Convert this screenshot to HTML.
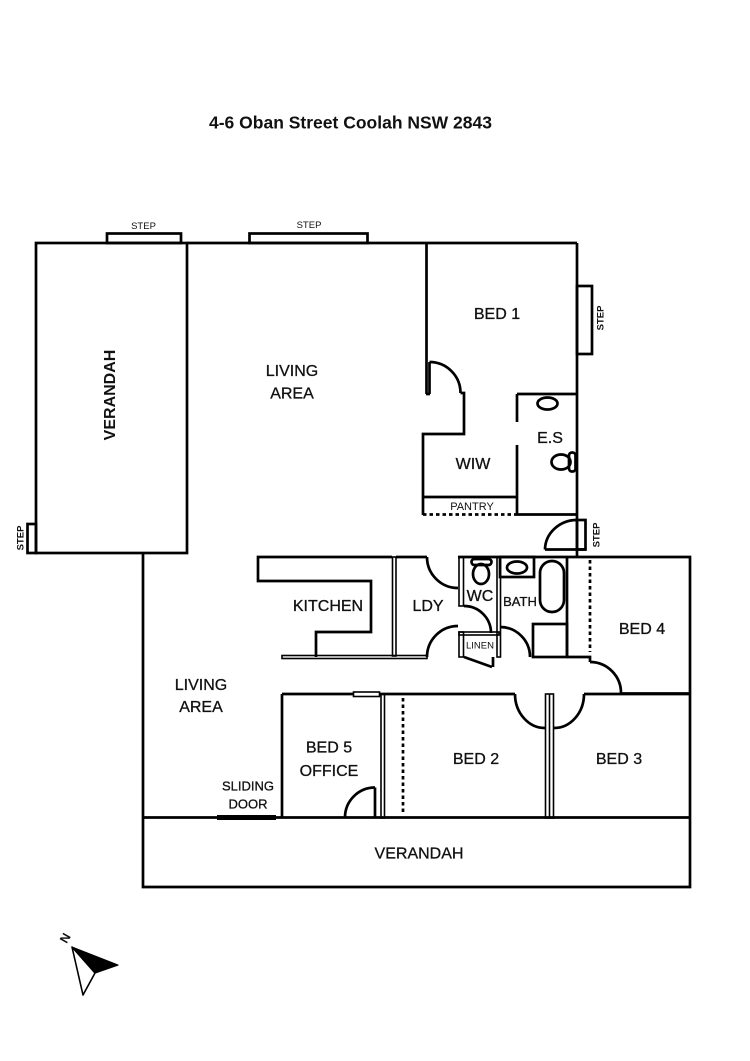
<!DOCTYPE html>
<html>
<head>
<meta charset="utf-8">
<style>
html,body{margin:0;padding:0;background:#fff;}
svg{display:block;}
text{font-family:"Liberation Sans",Arial,sans-serif;fill:#111;}
.lbl text{stroke:#111;stroke-width:0.3;}
</style>
</head>
<body>
<svg width="750" height="1061" viewBox="0 0 750 1061" xmlns="http://www.w3.org/2000/svg">
<rect width="750" height="1061" fill="#fff"/>

<!-- Title -->
<text x="209" y="128.5" font-size="17.5" font-weight="bold">4-6 Oban Street Coolah NSW 2843</text>

<g fill="none" stroke="#000" stroke-width="2.7">
  <!-- top steps -->
  <rect x="107" y="233.5" width="74" height="9.5"/>
  <rect x="249.5" y="233.5" width="118" height="9.5"/>
  <!-- left verandah -->
  <rect x="36" y="243" width="151" height="310"/>
  <rect x="27.5" y="524" width="8.5" height="29"/>
  <!-- top wall -->
  <line x1="187" y1="243" x2="577" y2="243"/>
  <!-- right wall -->
  <line x1="577" y1="243" x2="577" y2="557"/>
  <rect x="577" y="286" width="15" height="68"/>

  <!-- Bed 1 left wall + door -->
  <line x1="426.5" y1="243" x2="426.5" y2="394"/>
  <line x1="429.5" y1="362" x2="429.5" y2="394"/>
  <line x1="426" y1="394" x2="430" y2="394"/>
  <path d="M429.5,362 A31,31 0 0 1 460.5,393"/>
  <path d="M460.5,393 L464,393 L464,434 L423,434 L423,515"/>

  <!-- WIW / pantry -->
  <line x1="423" y1="497" x2="517" y2="497"/>
  <line x1="423" y1="514.5" x2="517" y2="514.5" stroke-dasharray="3.5,3"/>

  <!-- ES -->
  <line x1="517" y1="394" x2="577" y2="394"/>
  <line x1="517" y1="394" x2="517" y2="422"/>
  <line x1="517" y1="445" x2="517" y2="514.5"/>
  <line x1="517" y1="514.5" x2="577" y2="514.5"/>
  <ellipse cx="547.5" cy="403.5" rx="10" ry="6"/>
  <ellipse cx="561" cy="462" rx="9.5" ry="7.5"/>
  <rect x="569" y="452.5" width="6.5" height="19" rx="3"/>

  <!-- ES step door -->
  <rect x="577" y="520" width="8.5" height="29.5"/>
  <path d="M545,549.5 A32,30 0 0 1 577,520"/>
  <line x1="545" y1="549.5" x2="586" y2="549.5"/>

  <!-- Lower block outline -->
  <path d="M143,553 L143,887 L690,887 L690,557 L458,557"/>
  <line x1="143" y1="817.5" x2="690" y2="817.5"/>

  <!-- Kitchen -->
  <path d="M392,557 L258,557 L258,581 L371,581 L371,632 L316,632 L316,657"/>
  <line x1="396" y1="557" x2="427" y2="557"/>
  <!-- LDY doors -->
  <path d="M427,557 A31,31 0 0 0 458,588"/>
  <path d="M427,657 A31,31 0 0 1 458,626"/>
  <!-- WC door -->
  <path d="M464,606 A27,27 0 0 1 491,633"/>
  <!-- linen door -->
  <line x1="464" y1="657" x2="492" y2="667"/>
  <line x1="493" y1="657" x2="493" y2="667"/>
  <!-- WC toilet -->
  <rect x="471.5" y="559" width="20" height="6" rx="3"/>
  <ellipse cx="481" cy="574" rx="8" ry="10"/>

  <!-- Bath -->
  <rect x="500" y="557" width="34" height="20"/>
  <ellipse cx="517" cy="567.5" rx="10" ry="6"/>
  <rect x="540" y="561" width="24" height="51" rx="12"/>
  <line x1="567" y1="557" x2="567" y2="657"/>
  <rect x="533" y="624" width="34" height="33"/>
  <path d="M500,627 A30,30 0 0 1 530,657"/>

  <!-- Bed 4 -->
  <path d="M567,657 L590,657 L590,662"/>
  <path d="M590,662 A31,31 0 0 1 621,693.5"/>
  <line x1="621" y1="693.5" x2="690" y2="693.5"/>
  <line x1="590" y1="560" x2="590" y2="652" stroke-dasharray="3.5,3"/>

  <!-- Bed 5 / 2 / 3 -->
  <line x1="282" y1="694" x2="515" y2="694"/>
  <path d="M515,694 A30,34 0 0 0 545.5,728"/>
  <path d="M553.5,728 A30,34 0 0 0 584,694"/>
  <line x1="584" y1="694" x2="690" y2="694"/>
  <line x1="282" y1="694" x2="282" y2="818"/>
  <line x1="403" y1="698" x2="403" y2="815" stroke-dasharray="3.5,3"/>
  <path d="M345,817.5 A30,30 0 0 1 375,787.5"/>
  <line x1="375" y1="787.5" x2="375" y2="817.5"/>
</g>

<!-- thin double walls -->
<g fill="none" stroke="#000" stroke-width="1.6">
  <rect x="282" y="655.5" width="145" height="3"/>
  <rect x="392.5" y="557" width="3.5" height="99"/>
  <rect x="459" y="557" width="4.5" height="49"/>
  <rect x="459" y="632" width="4.5" height="25"/>
  <rect x="459" y="632" width="40" height="3"/>
  <rect x="497" y="557" width="3.5" height="100"/>
  <rect x="381" y="694" width="3.5" height="124"/>
  <rect x="545.5" y="694" width="8" height="124"/>
  <line x1="549.5" y1="694" x2="549.5" y2="818"/>
  <rect x="353.5" y="692" width="26" height="4.5" fill="#fff"/>
</g>
<!-- sliding door -->
<rect x="217" y="815" width="59" height="5" fill="#000"/>

<!-- Labels -->
<g font-size="9.5" text-anchor="middle">
  <text x="143.5" y="229">STEP</text>
  <text x="309" y="228">STEP</text>
</g>
<g font-size="9.5" font-weight="bold" text-anchor="middle">
  <text transform="translate(600,318) rotate(-90)" y="3.4">STEP</text>
  <text transform="translate(596,535) rotate(-90)" y="3.4">STEP</text>
  <text transform="translate(20,538) rotate(-90)" y="3.4">STEP</text>
</g>
<text transform="translate(109,395) rotate(-90)" y="5.8" font-size="16" font-weight="bold" text-anchor="middle">VERANDAH</text>

<g class="lbl" font-size="16" text-anchor="middle">
  <text x="292" y="376">LIVING</text>
  <text x="292" y="398.5">AREA</text>
  <text x="497" y="319">BED 1</text>
  <text x="550" y="443">E.S</text>
  <text x="473" y="469">WIW</text>
  <text x="328" y="611">KITCHEN</text>
  <text x="428" y="611">LDY</text>
  <text x="480" y="601">WC</text>
  <text x="642" y="634">BED 4</text>
  <text x="201" y="690">LIVING</text>
  <text x="201" y="712">AREA</text>
  <text x="329" y="752.5">BED 5</text>
  <text x="329" y="776">OFFICE</text>
  <text x="476" y="764">BED 2</text>
  <text x="619" y="764">BED 3</text>
  <text x="419" y="858.5">VERANDAH</text>
</g>
<text x="472" y="510" font-size="11" text-anchor="middle">PANTRY</text>
<g class="lbl"><text x="520" y="606" font-size="13" text-anchor="middle">BATH</text></g>
<text x="480" y="648.5" font-size="9.5" text-anchor="middle">LINEN</text>
<g class="lbl" font-size="13" text-anchor="middle">
  <text x="248" y="790.5">SLIDING</text>
  <text x="248" y="808.7">DOOR</text>
</g>

<!-- Compass -->
<polygon points="72,947 118,965 95,973" fill="#000" stroke="#000" stroke-width="1.2" stroke-linejoin="round"/>
<polygon points="72,947 95,973 83,995" fill="#fff" stroke="#000" stroke-width="1.6" stroke-linejoin="round"/>
<text transform="translate(65,938) rotate(-60)" y="4.5" font-size="12.5" font-weight="bold" text-anchor="middle">N</text>
</svg>
</body>
</html>
